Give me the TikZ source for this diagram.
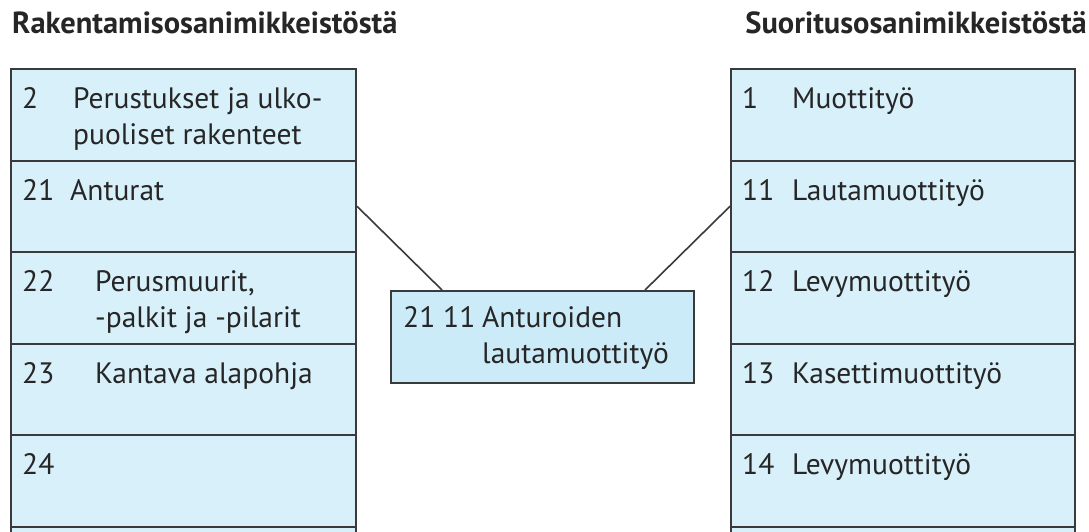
\documentclass[tikz,border=0pt]{standalone}
\usepackage{fontspec}
\setmainfont{PT Sans}
\usetikzlibrary{calc}

\definecolor{cellblue}{HTML}{D8F0FA}
\definecolor{boxblue}{HTML}{CBEBF8}
\definecolor{lineg}{HTML}{3A3A3A}

\tikzset{
  cell/.style={draw=lineg, line width=2pt, fill=cellblue, anchor=north west,
    minimum width=345pt, minimum height=91.5pt, inner sep=0pt},
  txt/.style={anchor=base west, inner sep=0pt, text=black!85,
    font=\fontsize{29.5}{36}\selectfont},
  head/.style={anchor=base west, inner sep=0pt, text=black!85,
    font=\fontsize{30.5}{34}\selectfont\bfseries},
  link/.style={draw=lineg, line width=1.6pt}
}

\begin{document}
\begin{tikzpicture}[x=1pt, y=-1pt]
\clip (0,0) rectangle (1089,531);
\fill[white] (0,0) rectangle (1089,531);

%% otsikot
\node[head] (hleft) at (12,33) {Rakentamisosanimikkeistöstä};
\node[head, anchor=base east] (hright) at (1087,33) {Suoritusosanimikkeistöstä};

%% rakentamisosat
\def\rh{91.5}
\foreach \n [count=\i from 0] in {2,21,22,23,24,25}
  \node[cell] (l\n) at (10,68+\i*\rh) {};

\node[txt] (l2a) at (22,108) {2};
\node[txt] (l2b) at (73,108) {Perustukset ja ulko-};
\node[txt] (l2c) at (73,144) {puoliset rakenteet};
\node[txt] (l21a) at (22,200) {21};
\node[txt] (l21b) at (70,200) {Anturat};
\node[txt] (l22a) at (22,291) {22};
\node[txt] (l22b) at (95,291) {Perusmuurit,};
\node[txt] (l22c) at (95,327) {-palkit ja -pilarit};
\node[txt] (l23a) at (22,383) {23};
\node[txt] (l23b) at (95,383) {Kantava alapohja};
\node[txt] (l24a) at (22,474) {24};

%% suoritusosat
\foreach \n [count=\i from 0] in {1,11,12,13,14,15}
  \node[cell, minimum width=344pt] (r\n) at (730,68+\i*\rh) {};

\node[txt] (r1a) at (742,108) {1};
\node[txt] (r1b) at (792,108) {Muottityö};
\node[txt] (r11a) at (742,200) {11};
\node[txt] (r11b) at (792,200) {Lautamuottityö};
\node[txt] (r12a) at (742,291) {12};
\node[txt] (r12b) at (792,291) {Levymuottityö};
\node[txt] (r13a) at (742,383) {13};
\node[txt] (r13b) at (792,383) {Kasettimuottityö};
\node[txt] (r14a) at (742,474) {14};
\node[txt] (r14b) at (792,474) {Levymuottityö};

%% yhdistelma
\node[cell, fill=boxblue, minimum width=303pt, minimum height=92pt] (mid) at (390,290) {};
\node[txt] (mida) at (403,327) {21 11};
\node[txt] (midb) at (482,327) {Anturoiden};
\node[txt] (midc) at (482,363) {lautamuottityö};

\coordinate (mleft) at ($(mid.north west)+(52,0)$);
\coordinate (mright) at ($(mid.north east)+(-50,0)$);
\draw[link] (l21.east) -- (mleft);
\draw[link] (r11.west) -- (mright);

\end{tikzpicture}
\end{document}
